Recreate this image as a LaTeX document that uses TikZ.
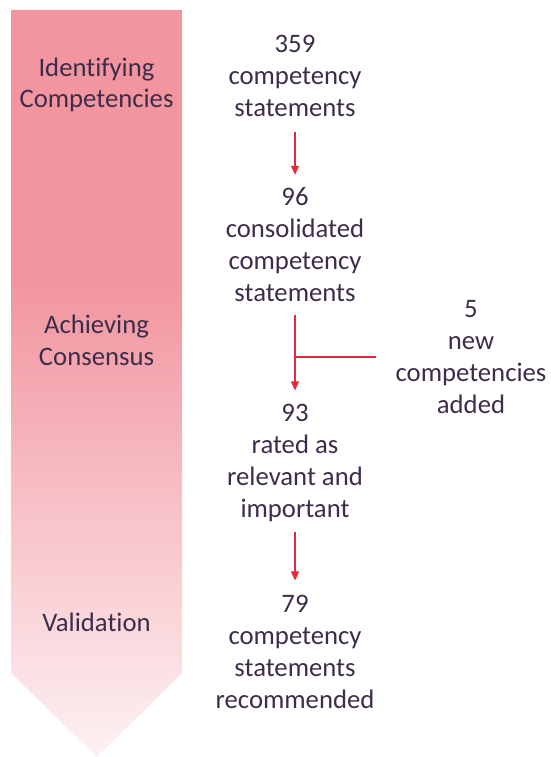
\documentclass[tikz,border=0pt]{standalone}
\usepackage{fontspec}
\setmainfont{Carlito}[Ligatures=NoCommon]
\usetikzlibrary{arrows.meta}
\definecolor{txt}{HTML}{3D2C4A}
\definecolor{redline}{HTML}{E8283C}
\definecolor{pinktop}{HTML}{F2959F}
\definecolor{pinkbot}{HTML}{FDF1F3}
\pgfdeclareverticalshading{stageshade}{100bp}{color(0bp)=(pinkbot); color(25bp)=(pinkbot); color(57bp)=(pinktop); color(100bp)=(pinktop)}
\tikzset{
  lbl/.style={font=\fontsize{26.7}{32}\selectfont, text=txt, align=center, inner sep=0pt, anchor=base},
  flow/.style={draw=redline, line width=1.2pt, -{Triangle[width=8pt,length=9pt]}},
  plainline/.style={draw=redline, line width=1.2pt}
}
\begin{document}
\begin{tikzpicture}[x=1pt,y=-1pt]
\useasboundingbox (0,0) rectangle (551,757);
\shade[shading=stageshade] (11,10) -- (182,10) -- (182,673) -- (96.5,757) -- (11,673) -- cycle;
% stage labels (anchor = baseline of last line)
\node[lbl] (s1) at (96.5,108) {Identifying\\Competencies};
\node[lbl] (s2) at (96.5,365) {Achieving\\Consensus};
\node[lbl] (s3) at (96.5,631) {Validation};
% right column
\node[lbl] (b359) at (295,117) {359\\competency\\statements};
\node[lbl] (b96) at (295,301) {96\\consolidated\\competency\\statements};
\node[lbl] (b93) at (295,517) {93\\rated as\\relevant and\\important};
\node[lbl] (b79) at (295,708) {79\\competency\\statements\\recommended};
\node[lbl] (bnew) at (471,413) {5\\new\\competencies\\added};
\coordinate (j) at (376,357);
\draw[flow] ([yshift=-15pt]b359.south) -- ([yshift=12pt]b96.north);
\draw[flow] ([yshift=-14pt]b96.south) -- ([yshift=13pt]b93.north);
\draw[plainline] (j) -- (j -| b96.south);
\draw[flow] ([yshift=-10pt]b93.south) -- ([yshift=14pt]b79.north);
\end{tikzpicture}
\end{document}
